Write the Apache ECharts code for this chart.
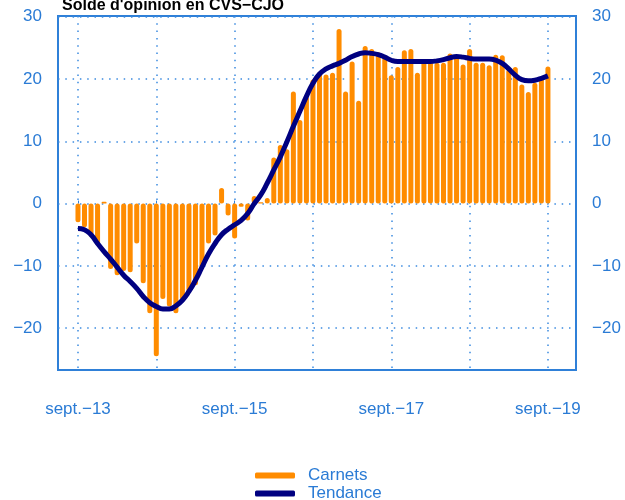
<!DOCTYPE html>
<html><head><meta charset="utf-8">
<script src="https://cdn.jsdelivr.net/npm/echarts@6/dist/echarts.min.js"></script>
<style>html,body{margin:0;padding:0;background:#fff}#c{width:625px;height:500px}</style>
</head><body><div id="c"></div>
<script>
// Month index 0 = sept. 2013 ... 72 = sept. 2019
var carnets = [-3.0,-3.8,-5.3,-6.7,0.3,-10.5,-11.5,-10.8,-11.0,-6.4,-12.8,-17.6,-24.5,-15.3,-16.5,-17.6,-15.5,-14.2,-13.1,-10.3,-6.4,-5.1,2.5,-1.9,-5.6,-0.5,-2.7,1.2,0.2,0.9,7.4,9.4,8.7,18.0,13.4,17.2,19.9,21.0,20.7,21.0,28.0,18.0,22.8,16.5,25.3,24.8,24.3,23.8,20.6,21.9,24.6,24.8,21.0,23.2,22.8,22.6,22.6,24.1,23.8,22.3,24.8,22.6,22.6,22.2,23.9,23.8,21.5,21.9,19.1,17.9,19.4,20.2,22.0];
var tendance = [-4.0,-4.2,-5.0,-6.4,-7.7,-8.9,-10.2,-11.5,-12.5,-13.6,-14.9,-15.9,-16.5,-16.9,-16.9,-16.4,-15.5,-14.1,-12.3,-10.2,-8.1,-6.4,-5.0,-4.1,-3.4,-2.7,-1.6,0.0,1.4,3.3,5.4,7.5,9.9,12.4,14.8,17.2,19.3,20.8,21.6,22.1,22.5,23.0,23.6,24.0,24.2,24.1,23.9,23.5,23.0,22.8,22.8,22.8,22.8,22.8,22.8,22.9,23.1,23.4,23.6,23.5,23.3,23.2,23.2,23.2,23.0,22.5,21.6,20.6,19.9,19.7,19.8,20.1,20.5];
var xTickPositions = [0,12,24,36,48,60,72];
var xLabelPositions = [0,24,48,72];
var xLabels = ['sept.\u221213','sept.\u221215','sept.\u221217','sept.\u221219'];
var yTicks = [-20,-10,0,10,20,30];
var titleText = "Solde d'opinion en CVS\u2212CJO";

var blue = '#2a7bd5';
var barData = carnets.map(function(v,i){return [i,v];});
var lineData = tendance.map(function(v,i){return [i,v];});
var chart = echarts.init(document.getElementById('c'));
var yCommon = {
  type:'value', min:-26.7, max:30.1,
  axisLine:{show:false}, axisTick:{show:false, customValues:yTicks},
  axisLabel:{customValues:yTicks, color:blue, fontSize:17, fontFamily:'Liberation Sans, Arial', formatter:function(v){return v<0?'\u2212'+Math.abs(v):String(v);}}
};
chart.setOption({
  animation:false,
  title:{text:titleText, left:57, top:-7, textStyle:{fontSize:16, fontWeight:'bold', color:'#000', fontFamily:'Liberation Sans, Arial'}},
  grid:{left:58, right:49, top:16, bottom:130, show:true, borderColor:'#2f80d8', borderWidth:2, backgroundColor:'transparent'},
  legend:{orient:'vertical', left:250, top:462, height:80, itemWidth:40, itemHeight:6, itemGap:1,
    textStyle:{color:blue, fontSize:17, fontFamily:'Liberation Sans, Arial', padding:[0,0,0,8]},
    data:[{name:'Carnets', icon:'roundRect', itemStyle:{color:'#ff8c00'}},{name:'Tendance', icon:'roundRect', itemStyle:{color:'#000080'}}]},
  xAxis:{type:'value', min:-3.06, max:76.3,
    axisLine:{show:false},
    axisTick:{show:true, customValues:xTickPositions, length:3, inside:true, lineStyle:{color:'#2f80d8'}},
    axisLabel:{customValues:xLabelPositions, color:blue, fontSize:17, margin:31, fontFamily:'Liberation Sans, Arial',
      formatter:function(v){var k=xLabelPositions.indexOf(v);return k>=0?xLabels[k]:'';}},
    splitLine:{show:true, lineStyle:{color:'#3b8be0', type:[1.5,5.8], width:1.5}}},
  yAxis:[
    Object.assign({}, yCommon, {position:'left', splitLine:{show:true, lineStyle:{color:'#3b8be0', type:[1.5,5.8], width:1.5}}, axisLabel:Object.assign({}, yCommon.axisLabel, {margin:16})}),
    Object.assign({}, yCommon, {position:'right', splitLine:{show:false}, axisLabel:Object.assign({}, yCommon.axisLabel, {margin:16})})
  ],
  series:[
    {name:'Carnets', type:'bar', data:barData, barWidth:5, itemStyle:{color:'#ff8c00', borderRadius:2.5}, z:2},
    {name:'Tendance', type:'line', data:lineData, smooth:true, showSymbol:false, symbol:'none', lineStyle:{color:'#000080', width:5}, z:3}
  ]
});
</script></body></html>
